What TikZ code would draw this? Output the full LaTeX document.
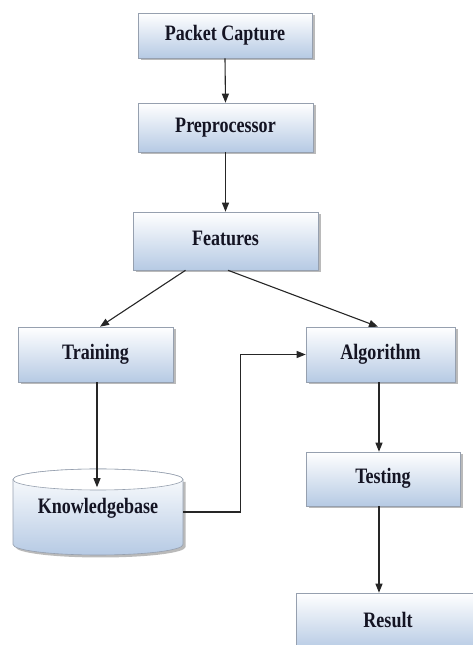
\documentclass[tikz,border=0pt]{standalone}
\usepackage{fontspec}
\setmainfont{Liberation Serif}
\usetikzlibrary{arrows.meta,shadows,calc}
\definecolor{boxblue}{RGB}{182,202,228}
\definecolor{boxedge}{RGB}{150,160,175}
\definecolor{txt}{RGB}{20,20,35}
\newcommand\sqz[2][0pt]{\raisebox{#1}{\scalebox{0.82}[1]{#2}}}
\tikzset{
  flowbox/.style={rectangle, draw=boxedge, line width=0.6pt, top color=white, bottom color=boxblue,
    drop shadow={shadow xshift=2.5pt, shadow yshift=-2.5pt, fill=black!45, opacity=0.6},
    font=\fontsize{22}{24}\selectfont\bfseries, text=txt, inner sep=0pt},
  conn/.style={draw=black!85, line width=1.1pt, -{Triangle[length=9pt,width=7pt]}},
}
\begin{document}
\begin{tikzpicture}[x=1pt,y=1pt]
\useasboundingbox (0,0) rectangle (473,645);
\node[flowbox, minimum width=174pt, minimum height=45pt] (pc) at (225,609.5) {\sqz{Packet Capture}};
\node[flowbox, minimum width=175pt, minimum height=49pt] (pre) at (225.5,517.5) {\sqz[1pt]{Preprocessor}};
\node[flowbox, minimum width=185pt, minimum height=58pt] (feat) at (225.5,404) {\sqz[6pt]{Features}};
\node[flowbox, minimum width=155pt, minimum height=55pt] (train) at (95.5,290.5) {\sqz[4pt]{Training}};
\node[flowbox, minimum width=149pt, minimum height=55pt] (alg) at (380.5,290.5) {\sqz[4pt]{Algorithm}};
\node[flowbox, minimum width=154pt, minimum height=54pt] (test) at (383,166) {\sqz[6pt]{Testing}};
\node[flowbox, minimum width=184pt, minimum height=57pt] (res) at (388,23.5) {\sqz[3pt]{Result}};
% knowledgebase cylinder
\fill[black!45, opacity=0.6] (15.5,163) -- (15.5,98) arc[start angle=180,end angle=360,x radius=85,y radius=10.5] -- (185.5,163) -- cycle;
\shade[top color=white, bottom color=boxblue, draw=boxedge, line width=0.6pt]
  (13,165.5) -- (13,100.5) arc[start angle=180,end angle=360,x radius=85,y radius=10.5]
  -- (183,165.5) arc[start angle=0,end angle=180,x radius=85,y radius=10.5] -- cycle;
\draw[draw=boxedge, line width=0.6pt, fill=white] (98,165.5) ellipse[x radius=85,y radius=10.5];
\node[font=\fontsize{22}{24}\selectfont\bfseries, text=txt, minimum width=170pt, inner sep=0pt] (kb) at (98,137) {\sqz{Knowledgebase}};
% connectors
\draw[conn] (pc.south) -- (pre.north);
\draw[conn] (pre.south) -- (feat.north);
\draw[conn] ([xshift=-40pt]feat.south) -- ([xshift=4.5pt]train.north);
\draw[conn] ([xshift=2.5pt]feat.south) -- ([xshift=-2.5pt]alg.north);
\draw[conn] ([xshift=1.5pt]train.south) -- ([xshift=1.5pt,yshift=10.5pt]train.south |- kb.north);
\draw[conn] ([yshift=-4pt]kb.east) -- ++(57,0) |- (alg.west);
\draw[conn] ([xshift=-1.5pt]alg.south) -- ([xshift=-1.5pt]alg.south |- test.north);
\draw[conn] ([xshift=-4pt]test.south) -- ([xshift=-4pt]test.south |- res.north);
\end{tikzpicture}
\end{document}
